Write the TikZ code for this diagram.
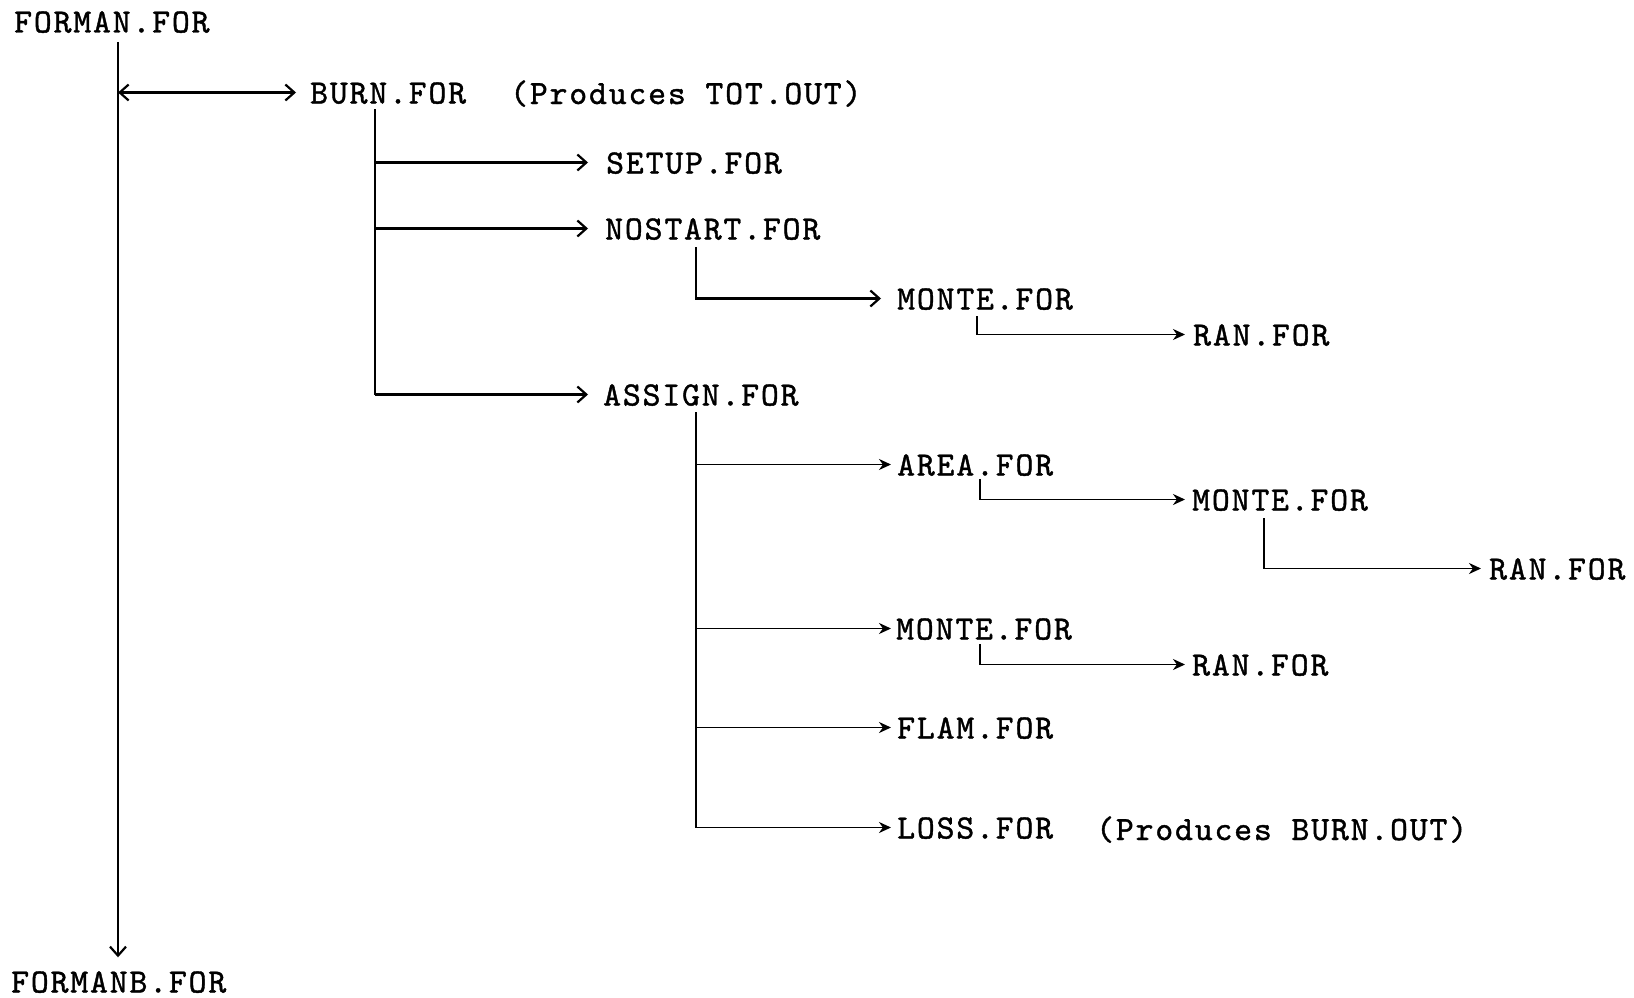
\documentclass[tikz,border=0pt]{standalone}
\usepackage{fontspec}
\setmonofont{lmmono10-regular.otf}[LetterSpace=5.5,FakeBold=1.2]
\usetikzlibrary{arrows.meta}
\begin{document}
\begin{tikzpicture}[x=1pt,y=-1pt,
 lbl/.style={anchor=base west,inner sep=0pt,text height=22pt,text depth=0pt,font=\ttfamily\fontsize{34}{38}\selectfont},
 note/.style={anchor=base west,inner sep=0pt,font=\ttfamily\fontsize{34}{38}\selectfont},
 ln/.style={line width=2.2pt},
 arr/.style={ln,-{Straight Barb[length=9pt,width=16pt,line width=2.2pt]}},
 dblarr/.style={ln,{Straight Barb[length=9pt,width=16pt,line width=2.2pt]}-{Straight Barb[length=9pt,width=16pt,line width=2.2pt]}},
 lns/.style={line width=1.9pt},
 arrs/.style={lns,-{Stealth[length=12pt,width=11pt]}}]
\useasboundingbox (0,0) rectangle (1634,998);

% labels
\node[lbl] (forman)  at (14,32.5)   {FORMAN.FOR};
\node[lbl] (formanb) at (11,992.5)  {FORMANB.FOR};
\node[lbl] (burn)    at (310,103.5) {BURN.FOR};
\node[note] (tot)    at (510,104)   {(Produces TOT.OUT)};
\node[lbl] (setup)   at (606,173.5) {SETUP.FOR};
\node[lbl] (nostart) at (605,239.5) {NOSTART.FOR};
\node[lbl] (monteA)  at (897,309.5) {MONTE.FOR};
\node[lbl] (ranA)    at (1193,345.5) {RAN.FOR};
\node[lbl] (assign)  at (603,405.5) {ASSIGN.FOR};
\node[lbl] (area)    at (897,475.5) {AREA.FOR};
\node[lbl] (monteB)  at (1192,510.5) {MONTE.FOR};
\node[lbl] (ranB)    at (1489,579.5) {RAN.FOR};
\node[lbl] (monteC)  at (896,639.5) {MONTE.FOR};
\node[lbl] (ranC)    at (1192,675.5) {RAN.FOR};
\node[lbl] (flam)    at (897,738.5) {FLAM.FOR};
\node[lbl] (loss)    at (897,838.5) {LOSS.FOR};
\node[note] (burnout) at (1096,840) {(Produces BURN.OUT)};

% main trunk
\coordinate (tf) at (118,42);
\draw[arr] (tf) -- ([yshift=13pt]tf |- formanb.north);
\draw[dblarr] (tf |- burn.west) -- ([xshift=-14pt]burn.west);

% BURN trunk
\coordinate (tb) at (375,109);
\draw[ln] (tb) -- (tb |- assign.west);
\draw[arr] (tb |- setup.west) -- ([xshift=-18pt]setup.west);
\draw[arr] (tb |- nostart.west) -- ([xshift=-17pt]nostart.west);
\draw[arr] (tb |- assign.west) -- ([xshift=-15pt]assign.west);

% NOSTART branch
\coordinate (tn) at (696,247);
\draw[arr] (tn) |- ([xshift=-16pt]monteA.west);
\coordinate (tma) at (977,316);
\draw[arrs] (tma) |- ([xshift=-8pt]ranA.west);

% ASSIGN trunk
\coordinate (ta) at (696,412);
\draw[lns] (ta) -- (ta |- loss.west);
\draw[arrs] (ta |- area.west) -- ([xshift=-6pt]area.west);
\coordinate (tar) at (980,479);
\draw[arrs] (tar) |- ([xshift=-7pt]monteB.west);
\coordinate (tmb) at (1264,518);
\draw[arrs] (tmb) |- ([xshift=-8pt]ranB.west);
\draw[arrs] (ta |- monteC.west) -- ([xshift=-5pt]monteC.west);
\coordinate (tmc) at (980,644);
\draw[arrs] (tmc) |- ([xshift=-7pt]ranC.west);
\draw[arrs] (ta |- flam.west) -- ([xshift=-6pt]flam.west);
\draw[arrs] (ta |- loss.west) -- ([xshift=-6pt]loss.west);
\end{tikzpicture}
\end{document}
